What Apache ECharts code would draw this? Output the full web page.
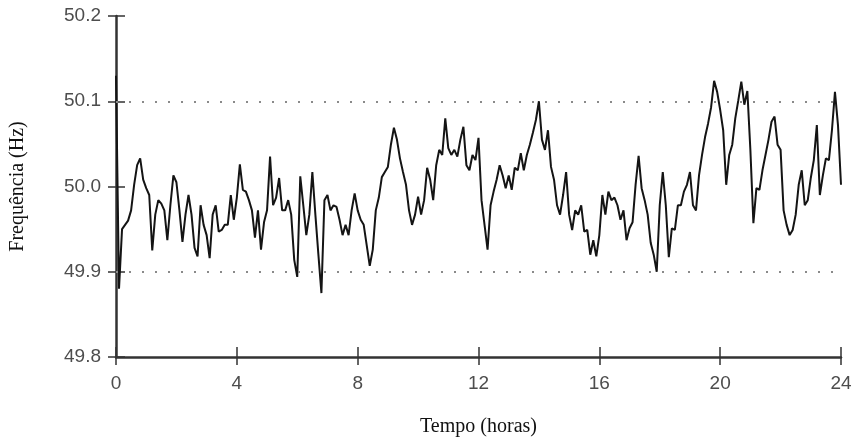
<!DOCTYPE html>
<html>
<head>
<meta charset="utf-8">
<script src="https://cdn.jsdelivr.net/npm/echarts@6/dist/echarts.min.js"></script>
<style>
html,body{margin:0;padding:0;background:#fff;}
#chart{width:852px;height:438px;}
</style>
</head>
<body>
<div id="chart"></div>
<script>
// Sampling step of the recording (hours)
const STEP_HOURS = 0.1;
// Frequency readings (Hz), one per step from 0 h to 24 h
const freqHz = [
  50.13, 49.88, 49.95, 49.955, 49.96, 49.972, 50.002, 50.025, 50.033, 50.008,
  49.998, 49.99, 49.925, 49.967, 49.984, 49.98, 49.972, 49.937, 49.978, 50.013,
  50.005, 49.972, 49.935, 49.967, 49.99, 49.967, 49.928, 49.918, 49.978, 49.955,
  49.943, 49.916, 49.967, 49.978, 49.947, 49.949, 49.955, 49.955, 49.99, 49.961,
  49.987, 50.026, 49.996, 49.994, 49.984, 49.972, 49.94, 49.972, 49.926, 49.958,
  49.972, 50.035, 49.978, 49.987, 50.01, 49.972, 49.972, 49.984, 49.967, 49.914,
  49.894, 50.012, 49.978, 49.943, 49.967, 50.017, 49.967, 49.92, 49.875, 49.984,
  49.99, 49.972, 49.978, 49.976, 49.961, 49.943, 49.955, 49.943, 49.972, 49.992,
  49.972, 49.961, 49.955, 49.931, 49.907, 49.926, 49.972, 49.987, 50.011, 50.017,
  50.023, 50.049, 50.069, 50.055, 50.033, 50.017, 50.002, 49.972, 49.955, 49.967,
  49.988, 49.967, 49.984, 50.022, 50.008, 49.984, 50.025, 50.043, 50.037, 50.08,
  50.045, 50.037, 50.043, 50.035, 50.055, 50.07, 50.025, 50.019, 50.037, 50.031,
  50.057, 49.984, 49.955, 49.926, 49.978, 49.994, 50.008, 50.025, 50.013, 49.998,
  50.013, 49.996, 50.022, 50.019, 50.039, 50.019, 50.037, 50.049, 50.063, 50.078,
  50.1, 50.055, 50.043, 50.066, 50.023, 50.008, 49.978, 49.967, 49.99, 50.017,
  49.967, 49.949, 49.972, 49.967, 49.978, 49.947, 49.949, 49.92, 49.937, 49.918,
  49.943, 49.99, 49.967, 49.994, 49.984, 49.987, 49.978, 49.961, 49.972, 49.937,
  49.951, 49.958, 50.002, 50.036, 49.998, 49.984, 49.967, 49.934, 49.92, 49.9,
  49.978, 50.017, 49.978, 49.917, 49.951, 49.949, 49.978, 49.978, 49.994, 50.002,
  50.017, 49.978, 49.972, 50.013, 50.037, 50.058, 50.074, 50.093, 50.124, 50.111,
  50.09, 50.066, 50.002, 50.037, 50.049, 50.08, 50.101, 50.123, 50.096, 50.112,
  50.043, 49.957, 49.998, 49.996, 50.019, 50.037, 50.055, 50.076, 50.082, 50.049,
  50.043, 49.972, 49.955, 49.943, 49.949, 49.967, 50.002, 50.019, 49.978, 49.984,
  50.01, 50.031, 50.072, 49.99, 50.013, 50.033, 50.031, 50.066, 50.111, 50.072,
  50.002
];
// Tick values
const xTicks = [0, 4, 8, 12, 16, 20, 24];
const yTicks = [49.8, 49.9, 50.0, 50.1, 50.2];
// Dotted reference limits (Hz)
const limitLines = [50.1, 49.9];

const xName = 'Tempo (horas)';
const yName = 'Frequência (Hz)';

const seriesData = freqHz.map((v, i) => [Number((i * STEP_HOURS).toFixed(2)), v]);

const labelFont = {color: '#4d4d4d', fontSize: 19, fontFamily: '"Liberation Sans", Arial, sans-serif'};
const nameFont = {color: '#111', fontSize: 20, fontFamily: '"Liberation Serif", "Times New Roman", serif'};

const xMin = xTicks[0], xMax = xTicks[xTicks.length - 1], xInt = xTicks[1] - xTicks[0];
const yMin = yTicks[0], yMax = yTicks[yTicks.length - 1], yInt = 0.1;

const chart = echarts.init(document.getElementById('chart'), null, {renderer: 'canvas'});
chart.setOption({
  animation: false,
  backgroundColor: '#fff',
  grid: {left: 116, right: 11, top: 16, bottom: 81, containLabel: false, outerBoundsMode: 'none'},
  xAxis: [
    {
      type: 'value', min: xMin, max: xMax, interval: xInt, position: 'bottom',
      name: xName, nameLocation: 'middle', nameGap: 60, nameTextStyle: nameFont,
      axisLine: {show: true, onZero: false, lineStyle: {color: '#333', width: 2.5}},
      axisTick: {show: true, inside: false, length: 8, lineStyle: {color: '#333', width: 1.5}},
      axisLabel: Object.assign({margin: 17}, labelFont),
      splitLine: {show: false}
    },
    {
      type: 'value', min: xMin, max: xMax, interval: xInt, position: 'bottom',
      axisLine: {show: false, onZero: false},
      axisTick: {show: true, inside: true, length: 10, lineStyle: {color: '#333', width: 1.5}},
      axisLabel: {show: false},
      splitLine: {show: false}
    }
  ],
  yAxis: [
    {
      type: 'value', min: yMin, max: yMax, interval: yInt, position: 'left',
      name: yName, nameLocation: 'middle', nameGap: 88, nameRotate: 90, nameTextStyle: nameFont,
      axisLine: {show: true, onZero: false, lineStyle: {color: '#333', width: 2.5}},
      axisTick: {show: true, inside: false, length: 8, lineStyle: {color: '#333', width: 1.5}},
      axisLabel: Object.assign({margin: 15, formatter: v => v.toFixed(1)}, labelFont),
      splitLine: {show: false}
    },
    {
      type: 'value', min: yMin, max: yMax, interval: yInt, position: 'left',
      axisLine: {show: false, onZero: false},
      axisTick: {show: true, inside: true, length: 9, lineStyle: {color: '#333', width: 1.5}},
      axisLabel: {show: false},
      splitLine: {show: false}
    }
  ],
  series: [{
    type: 'line',
    xAxisIndex: 0, yAxisIndex: 0,
    data: seriesData,
    showSymbol: false,
    symbol: 'none',
    lineStyle: {color: '#141414', width: 2},
    z: 3,
    markLine: {
      silent: true,
      symbol: ['none', 'none'],
      label: {show: false},
      lineStyle: {color: '#8a8a8a', width: 2, type: [2, 11]},
      data: limitLines.map(v => ({yAxis: v}))
    }
  }]
});
</script>
</body>
</html>
